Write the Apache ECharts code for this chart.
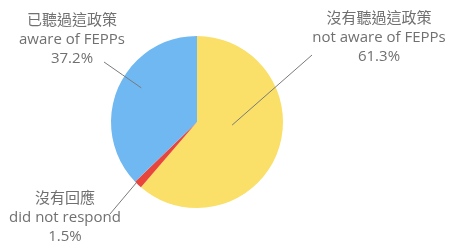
<!DOCTYPE html>
<html><head><meta charset="utf-8">
<script src="https://cdn.jsdelivr.net/npm/echarts@6/dist/echarts.min.js"></script>
<style>html,body{margin:0;padding:0;background:#fff}#c{width:449px;height:244px}</style>
</head><body><div id="c"></div>
<script>
const namesZh = ['沒有聽過這政策', '沒有回應', '已聽過這政策'];
const namesEn = ['not aware of FEPPs', 'did not respond', 'aware of FEPPs'];
const values = [61.3, 1.5, 37.2];

// styling / layout (not data)
const colors = ['#fadf68', '#e8453c', '#70b8f2'];
const CENTER = [197, 122];
const RADIUS = 86;
// label block: centre x, top y
const labelPos = [[379, 8], [65, 188], [72, 10]];
// leader line: inner anchor (angle clockwise from 12 o'clock, fraction of radius) and outer end
const lineInner = [[95, 0.41], [225, 0.99], [301.5, 0.76]];
const lineOuter = [[312, 55], [110, 214], [104, 62]];

const chart = echarts.init(document.getElementById('c'));
const LH = 19.5;
const base = {
  type: 'pie',
  center: CENTER,
  radius: RADIUS,
  startAngle: 90,
  clockwise: true
};
chart.setOption({
  animation: false,
  series: [
    Object.assign({}, base, {
      z: 2,
      data: values.map((v, i) => ({ name: namesZh[i], value: v, itemStyle: { color: colors[i] } })),
      label: { show: false },
      labelLine: { show: false },
      emphasis: { disabled: true }
    }),
    Object.assign({}, base, {
      z: 5,
      silent: true,
      emphasis: { disabled: true },
      itemStyle: { color: 'rgba(0,0,0,0)' },
      data: values.map((v, i) => ({ name: namesZh[i], value: v })),
      label: {
        show: true,
        overflow: 'none',
        color: '#707070',
        align: 'center',
        formatter: p => '{zh|' + p.name + '}\n{en|' + namesEn[p.dataIndex] + '}\n{en|' + p.value.toFixed(1) + '%}',
        rich: {
          zh: { fontFamily: '"Noto Sans CJK TC", sans-serif', fontSize: 15, lineHeight: LH, color: '#707070', align: 'center' },
          en: { fontFamily: '"Open Sans", sans-serif', fontSize: 15, lineHeight: LH, color: '#707070', align: 'center' }
        }
      },
      labelLine: { show: true, length: 20, length2: 0, smooth: false, lineStyle: { color: '#7a7a7a', width: 1 } },
      labelLayout: function (p) {
        const i = p.dataIndex;
        const pos = labelPos[i];
        const a = lineInner[i][0] * Math.PI / 180;
        const r = lineInner[i][1] * RADIUS;
        const s = [CENTER[0] + r * Math.sin(a), CENTER[1] - r * Math.cos(a)];
        const e = lineOuter[i];
        return {
          x: pos[0], y: pos[1], align: 'center', verticalAlign: 'top',
          labelLinePoints: [s, [(s[0] + e[0]) / 2, (s[1] + e[1]) / 2], e]
        };
      }
    })
  ]
});
</script></body></html>
